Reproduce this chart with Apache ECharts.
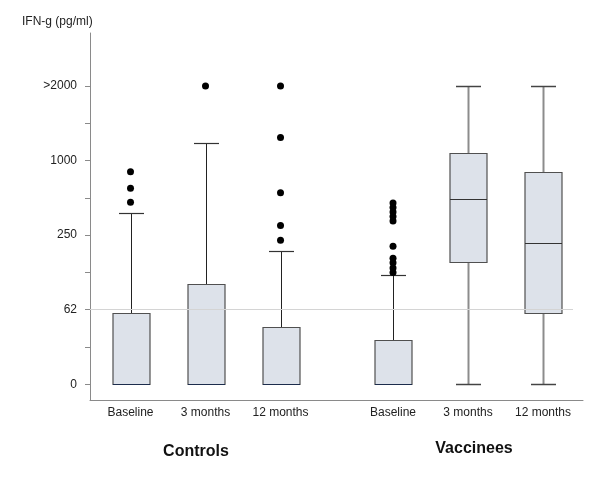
<!DOCTYPE html>
<html><head><meta charset="utf-8">
<script src="https://cdn.jsdelivr.net/npm/echarts@6/dist/echarts.min.js"></script>
<style>html,body{margin:0;padding:0;background:#fff}#c{width:600px;height:486px}</style>
</head><body><div id="c"></div>
<script>
// Category labels and their positions on the x scale (gap between the two groups)
const categories = ['Baseline', '3 months', '12 months', 'Baseline', '3 months', '12 months'];
const positions = [0, 1, 2, 3.5, 4.5, 5.5];
const groupNames = ['Controls', 'Vaccinees'];
// Y axis: ordinal-like scale, values expressed in tick-step units (0 -> "0", 1 -> "62", 2 -> "250", 3 -> "1000", 4 -> ">2000")
const yTickLabels = ['0', '62', '250', '1000', '>2000'];
const yTickValues = [0, 1, 2, 3, 4];
const yMinorTickValues = [0, 0.5, 1, 1.5, 2, 2.5, 3, 3.5, 4];
const gridlineValue = 1; // 62 pg/ml reference line
// Box statistics (in the same tick-step units)
const lowWhisker = [0, 0, 0, 0, 0, 0];
const q1 = [0, 0, 0, 0, 1.64, 0.95];
const median = [0, 0, 0, 0, 2.48, 1.89];
const q3 = [0.96, 1.35, 0.77, 0.59, 3.10, 2.85];
const highWhisker = [2.30, 3.24, 1.79, 1.46, 4.0, 4.0];
// Outliers per box
const outliers = [
  [2.85, 2.63, 2.44],
  [4.0],
  [4.0, 3.31, 2.57, 2.13, 1.93],
  [2.43, 2.37, 2.31, 2.25, 2.19, 1.85, 1.69, 1.63, 1.56, 1.50],
  [],
  []
];

const boxData = positions.map((p, i) => [p, lowWhisker[i], q1[i], median[i], q3[i], highWhisker[i]]);
const outlierData = [];
outliers.forEach((arr, i) => arr.forEach(v => outlierData.push([positions[i], v])));

const FONT = '"Liberation Sans", Arial, sans-serif';
const chart = echarts.init(document.getElementById('c'), null, {renderer: 'canvas'});

function px(v) { return Math.round(v) + 0.5; }

chart.setOption({
  animation: false,
  backgroundColor: '#ffffff',
  grid: {left: 90, right: 17, top: 33, bottom: 86},
  xAxis: {
    type: 'value', min: -0.54, max: 6.033,
    axisLine: {show: true, onZero: false, lineStyle: {color: '#8a8a8a', width: 1}},
    axisTick: {show: false},
    splitLine: {show: false},
    axisLabel: {
      customValues: positions,
      formatter: function (v) {
        for (let i = 0; i < positions.length; i++) if (Math.abs(positions[i] - v) < 1e-6) return categories[i];
        return '';
      },
      fontFamily: FONT, fontSize: 12, color: '#222', margin: 7
    }
  },
  yAxis: {
    type: 'value', min: -0.21, max: 4.71,
    axisLine: {show: true, onZero: false, lineStyle: {color: '#8a8a8a', width: 1}},
    axisTick: {show: true, customValues: yMinorTickValues, length: 5, lineStyle: {color: '#8a8a8a'}},
    splitLine: {show: false},
    axisLabel: {
      customValues: yTickValues,
      formatter: function (v) { return yTickLabels[Math.round(v)]; },
      fontFamily: FONT, fontSize: 12, color: '#222', margin: 13
    }
  },
  graphic: [
    {type: 'text', left: 22, top: 16, style: {text: 'IFN-g (pg/ml)', font: '12px ' + FONT, fill: '#222'}},
    {type: 'text', x: 196, y: 452, style: {text: groupNames[0], font: 'bold 16px ' + FONT, fill: '#111', align: 'center', verticalAlign: 'middle'}},
    {type: 'text', x: 474, y: 449, style: {text: groupNames[1], font: 'bold 16px ' + FONT, fill: '#111', align: 'center', verticalAlign: 'middle'}}
  ],
  series: [
    {
      type: 'line', data: [], z: 1,
      markLine: {
        silent: true, symbol: 'none', label: {show: false},
        lineStyle: {color: '#d4d4d4', width: 1, type: 'solid'},
        data: [[{coord: [-0.54, gridlineValue]}, {coord: [5.9, gridlineValue]}]]
      }
    },
    {
      type: 'custom', z: 2,
      data: boxData,
      encode: {x: 0, y: [1, 2, 3, 4, 5]},
      renderItem: function (params, api) {
        const i = params.dataIndex;
        const x = api.value(0);
        const xc = px(api.coord([x, 0])[0]);
        const yOf = v => px(api.coord([x, v])[1]);
        const yLow = yOf(api.value(1)), yQ1 = yOf(api.value(2)), yMed = yOf(api.value(3)),
              yQ3 = yOf(api.value(4)), yHigh = yOf(api.value(5));
        const halfBox = 18.5, halfCap = 12.5;
        const grayWhisker = i >= 4;
        const wStyle = grayWhisker ? {stroke: '#8c8c8c', lineWidth: 2} : {stroke: '#222', lineWidth: 1};
        const capStyle = grayWhisker ? {stroke: '#444', lineWidth: 1.5} : {stroke: '#333', lineWidth: 1.2};
        const children = [];
        children.push({type: 'line', shape: {x1: xc, y1: yQ3, x2: xc, y2: yHigh}, style: wStyle});
        children.push({type: 'line', shape: {x1: xc - halfCap, y1: yHigh, x2: xc + halfCap, y2: yHigh}, style: capStyle});
        if (yLow - yQ1 > 0.5) {
          children.push({type: 'line', shape: {x1: xc, y1: yQ1, x2: xc, y2: yLow}, style: wStyle});
          children.push({type: 'line', shape: {x1: xc - halfCap, y1: yLow, x2: xc + halfCap, y2: yLow}, style: capStyle});
        }
        children.push({type: 'rect', shape: {x: xc - halfBox, y: yQ3, width: 2 * halfBox, height: yQ1 - yQ3},
          style: {fill: '#dde2ea', stroke: '#505050', lineWidth: 1.2}});
        children.push({type: 'line', shape: {x1: xc - halfBox, y1: yMed, x2: xc + halfBox, y2: yMed},
          style: {stroke: api.value(3) === 0 ? '#1c2c4c' : '#333', lineWidth: 1.2}});
        return {type: 'group', children: children};
      }
    },
    {
      type: 'scatter', z: 3,
      data: outlierData,
      symbol: 'circle', symbolSize: 7,
      itemStyle: {color: '#000', opacity: 1}
    }
  ]
});
</script>
</body></html>
